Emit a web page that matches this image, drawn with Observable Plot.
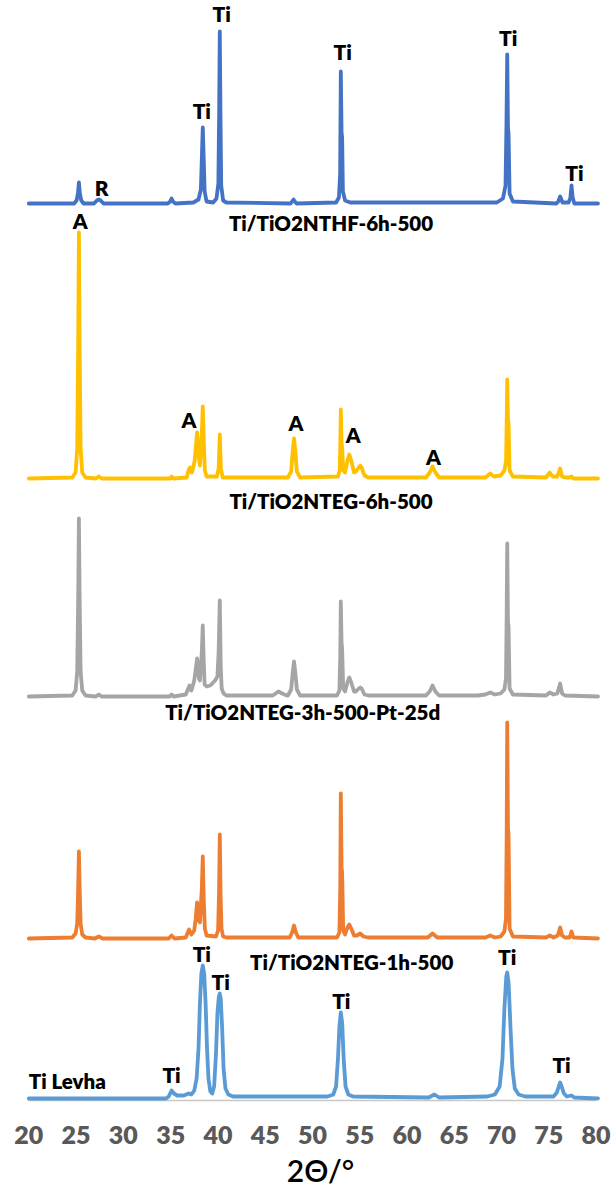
<!DOCTYPE html>
<html>
<head>
<meta charset="utf-8">
<script src="https://cdn.jsdelivr.net/npm/d3@7"></script>
<script src="https://cdn.jsdelivr.net/npm/@observablehq/plot@0.6"></script>
<style>
  html, body { margin: 0; padding: 0; background: #fff; }
  #chart svg { display: block; }
</style>
</head>
<body>
<div id="chart"></div>
<script>
// ---- Data (2θ in degrees, intensity in arbitrary counts above each pattern's baseline) ----
const seriesNames = [
  "Ti/TiO2NTHF-6h-500",
  "Ti/TiO2NTEG-6h-500",
  "Ti/TiO2NTEG-3h-500-Pt-25d",
  "Ti/TiO2NTEG-1h-500",
  "Ti Levha"
];
const seriesColors = ["#4472C4", "#FFC000", "#A5A5A5", "#ED7D31", "#5B9BD5"];
// vertical offsets used to stack the patterns
const seriesOffsets = [897, 622, 404, 162, 2];

const xTicks = [20, 25, 30, 35, 40, 45, 50, 55, 60, 65, 70, 75, 80];

const thf6h = [
  [20,0],[24.8,0],[25.05,3],[25.2,10],[25.3,21],[25.4,10],[25.55,3],[25.8,0],
  [26.9,0],[27.2,3],[27.4,4],[27.6,3],[27.9,0],
  [34.7,0],[34.95,2],[35.1,5],[35.25,2],[35.5,0],
  [37.4,1],[37.95,4],[38.2,14],[38.3,45],[38.4,76],[38.5,45],[38.6,12],[38.8,2],
  [39.5,1],[39.85,5],[40.05,20],[40.13,90],[40.2,172],[40.27,90],[40.35,18],[40.55,3],[40.9,1],
  [47.7,0],[48.0,4],[48.3,0],
  [52.5,1],[52.8,6],[52.93,30],[53.0,132],[53.08,71],[53.14,66],[53.22,12],[53.45,3],[54.0,1],
  [69.5,1],[70.15,5],[70.42,18],[70.52,80],[70.6,149],[70.68,75],[70.74,70],[70.85,10],[71.2,2],
  [75.8,0],[76.0,2],[76.2,7],[76.45,1],[77.1,1],[77.28,6],[77.4,18],[77.52,6],[77.7,0],[80.2,0]
];

const eg6h = [
  [20,0],[24.6,1],[24.95,6],[25.12,30],[25.22,130],[25.3,246],[25.38,130],[25.48,30],[25.65,6],[26.0,1],
  [27.1,0],[27.4,2],[27.7,0],
  [35.0,0],[35.1,2],[35.3,0],
  [36.7,1],[36.95,10],[37.05,11],[37.25,6],[37.55,18],[37.8,46],[37.95,24],[38.1,13],
  [38.3,45],[38.4,72],[38.5,40],[38.62,8],[38.8,2],
  [39.9,2],[40.08,10],[40.2,44],[40.32,10],[40.5,1],
  [47.4,1],[47.75,7],[47.9,26],[48.05,40],[48.2,26],[48.35,7],[48.7,1],
  [52.7,2],[52.88,8],[52.95,35],[53.0,69],[53.08,35],[53.15,30],[53.25,8],
  [53.45,6],[53.7,18],[53.9,24],[54.1,18],[54.4,6],[54.6,7],[54.9,11],[55.05,13],[55.2,11],[55.5,3],[55.9,1],
  [62.0,1],[62.4,6],[62.7,12],[63.0,6],[63.4,1],
  [68.3,1],[68.8,5],[69.2,2],
  [69.9,3],[70.3,8],[70.48,18],[70.55,60],[70.6,99],[70.68,59],[70.74,55],[70.85,8],[71.2,2],
  [74.7,1],[75.1,6],[75.4,2],[75.9,2],[76.2,10],[76.4,2],[76.7,1],
  [77.2,1],[77.4,2],[77.6,0],[80.2,0]
];

const eg3hPt = [
  [20,0],[24.6,1],[24.95,6],[25.12,25],[25.22,95],[25.3,178],[25.38,95],[25.48,25],[25.65,6],[26.0,1],
  [27.1,0],[27.4,2],[27.7,0],
  [34.9,0],[35.1,2],[35.3,0],
  [36.6,2],[37.0,11],[37.2,6],[37.5,16],[37.8,38],[38.0,18],[38.1,16],[38.3,45],[38.4,71],[38.5,35],[38.6,12],
  [38.8,10],[39.2,11],[39.7,16],[39.95,20],[40.08,45],[40.2,96],[40.3,30],[40.4,8],[40.6,3],[40.9,1],
  [45.8,1],[46.4,5],[46.8,3],[47.3,1],
  [47.4,1],[47.75,7],[47.9,23],[48.05,35],[48.2,23],[48.35,7],[48.7,1],
  [52.6,1],[52.85,6],[52.94,40],[53.0,95],[53.08,53],[53.14,48],[53.25,8],
  [53.45,5],[53.7,14],[53.9,19],[54.1,14],[54.4,5],[54.6,5],[54.9,8],[55.05,9],[55.2,8],[55.5,2],[55.9,1],
  [62.0,1],[62.4,5],[62.7,11],[63.0,5],[63.4,1],
  [67.5,1],[68.3,2],[68.8,4],[69.3,2],
  [69.9,3],[70.3,7],[70.47,18],[70.54,80],[70.6,153],[70.68,74],[70.74,70],[70.85,8],[71.2,2],
  [74.7,1],[75.1,4],[75.5,2],[75.9,3],[76.2,13],[76.4,3],[76.7,1],[80.2,0]
];

const eg1h = [
  [20,0],[24.6,1],[24.95,5],[25.12,15],[25.22,50],[25.3,87],[25.38,50],[25.48,15],[25.65,4],[26.0,1],
  [27.0,0],[27.4,2],[27.8,0],
  [34.8,0],[35.1,3],[35.4,0],
  [36.6,1],[36.95,9],[37.2,4],[37.5,8],[37.65,20],[37.8,36],[37.95,18],[38.1,16],[38.3,50],[38.4,82],[38.5,40],[38.62,10],[38.8,3],
  [39.8,2],[40.02,8],[40.12,45],[40.2,104],[40.28,45],[40.38,10],[40.55,2],[40.9,1],
  [47.6,1],[47.85,6],[48.05,13],[48.25,6],[48.5,1],
  [52.6,1],[52.85,6],[52.94,50],[53.0,145],[53.08,71],[53.14,66],[53.25,8],
  [53.45,4],[53.7,11],[53.9,14],[54.1,10],[54.4,3],[54.7,3],[55.05,5],[55.4,2],[55.9,1],
  [62.2,1],[62.7,5],[63.2,1],
  [68.3,1],[68.8,3],[69.3,1],
  [69.9,2],[70.3,7],[70.47,20],[70.54,100],[70.6,216],[70.68,110],[70.74,104],[70.85,10],[71.2,2],
  [74.7,1],[75.1,3],[75.5,1],[75.95,3],[76.2,11],[76.4,3],[76.7,1],
  [77.2,1],[77.4,7],[77.6,1],[80.2,0]
];

const tiLevha = [
  [20,0],[34.5,0],[34.8,2],[35.1,8],[35.35,5],[35.7,3],[36.4,3],[36.9,5],[37.2,4],
  [37.5,8],[37.75,20],[37.95,50],[38.1,95],[38.25,125],[38.4,133],[38.55,125],[38.7,95],[38.85,50],[39.0,20],[39.2,7],[39.4,5],
  [39.6,12],[39.8,45],[39.95,85],[40.1,102],[40.2,105],[40.3,100],[40.45,70],[40.6,30],[40.8,10],[41.1,4],[41.6,2],
  [51.6,2],[52.2,4],[52.5,12],[52.7,40],[52.85,72],[53.0,86],[53.15,75],[53.3,40],[53.5,12],[53.8,4],[54.3,2],
  [62.3,1],[62.9,4],[63.4,1],
  [68.5,2],[69.3,4],[69.8,12],[70.1,40],[70.3,90],[70.5,122],[70.6,126],[70.75,115],[70.95,70],[71.15,30],[71.4,10],[71.8,4],[72.5,2],
  [75.5,2],[75.85,6],[76.05,12],[76.2,16],[76.35,12],[76.6,5],[76.9,2],[77.4,3],[77.7,1],[80.2,0]
];

const seriesPoints = [thf6h, eg6h, eg3hPt, eg1h, tiLevha];

// phase labels: series index, 2θ, height above baseline, text
const peakLabelSeries = [0,0,0,0,0,0, 1,1,1,1,1, 4,4,4,4,4,4];
const peakLabelX      = [27.7,38.3,40.4,53.2,70.7,77.7, 25.45,36.95,48.25,54.3,62.8, 35.1,38.3,40.3,53.05,70.6,76.35];
const peakLabelY      = [14,91,188,150,164,29, 256,57,54,42,20, 22,143,115,96,140,32];
const peakLabelText   = ["R","Ti","Ti","Ti","Ti","Ti", "A","A","A","A","A", "Ti","Ti","Ti","Ti","Ti","Ti"];

// series name labels: 2θ position and height relative to baseline
const nameLabelX = [51.96, 51.96, 48.97, 54.15, 20];
const nameLabelY = [-21, -24, -17, -25, 16];

const xLabel = "2Θ/°";

// ---- Build tables ----
const rows = seriesPoints.flatMap((pts, i) =>
  pts.map(([x, v]) => ({series: seriesNames[i], x, y: v + seriesOffsets[i]}))
);
const peakLabels = peakLabelText.map((t, k) => ({
  text: t, x: peakLabelX[k], y: peakLabelY[k] + seriesOffsets[peakLabelSeries[k]]
}));
const nameLabels = seriesNames.map((n, i) => ({
  text: n, x: nameLabelX[i], y: nameLabelY[i] + seriesOffsets[i], anchor: i === 4 ? "start" : "middle"
}));

const font = "Lato, 'Open Sans', 'Noto Sans', sans-serif";

const chart = Plot.plot({
  width: 613,
  height: 1191,
  marginLeft: 28.3,
  marginRight: 17.4,
  marginTop: 20,
  marginBottom: 91,
  style: {fontFamily: font, background: "#fff", overflow: "visible"},
  x: {domain: [20, 80]},
  y: {domain: [0, 1080], axis: null},
  color: {domain: seriesNames, range: seriesColors},
  marks: [
    Plot.ruleY([0], {stroke: "#C8C8C8", strokeWidth: 1.6}),
    Plot.line(rows, {x: "x", y: "y", z: "series", stroke: "series", strokeWidth: 3.8, strokeLinejoin: "round", strokeLinecap: "round"}),
    Plot.axisX({ticks: xTicks, tickSize: 0, tickPadding: 26, fontSize: 25, fontWeight: 800, color: "#595959", label: null, tickFormat: d => String(d)}),
    Plot.text(peakLabels, {x: "x", y: "y", text: "text", fontSize: 21, fontWeight: 800, fill: "#000"}),
    Plot.text(nameLabels.filter(d => d.anchor === "middle"), {x: "x", y: "y", text: "text", fontSize: 20.5, fontWeight: 800, fill: "#000", textAnchor: "middle"}),
    Plot.text(nameLabels.filter(d => d.anchor === "start"), {x: "x", y: "y", text: "text", fontSize: 20.5, fontWeight: 800, fill: "#000", textAnchor: "start"}),
    Plot.text([xLabel], {frameAnchor: "bottom", lineAnchor: "middle", dx: 8, dy: 72, fontSize: 30, fontWeight: 600, fill: "#000"})
  ]
});
document.getElementById("chart").append(chart);
</script>
</body>
</html>
